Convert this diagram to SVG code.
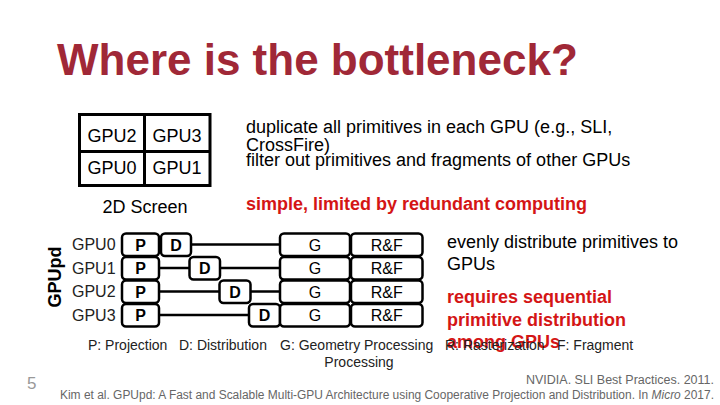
<svg xmlns="http://www.w3.org/2000/svg" width="720" height="405" viewBox="0 0 720 405">
<style>
text{font-family:"Liberation Sans",Arial,sans-serif;}
.title{font-size:44px;font-weight:bold;fill:#a02837;}
.t18{font-size:18px;fill:#000;}
.red{font-size:18px;font-weight:bold;fill:#d41515;}
.box{fill:#fff;stroke:#000;stroke-width:2.5;}
.bl{font-size:16px;font-weight:bold;text-anchor:middle;}
.rl{font-size:16px;text-anchor:middle;}
.gl{font-size:16px;fill:#222;}
.leg{font-size:14px;fill:#222;}
.ref{font-size:12.5px;fill:#666;}
.conn{stroke:#000;stroke-width:2.5;fill:none;}
.grid{fill:none;stroke:#000;stroke-width:3;}
</style>
<rect width="720" height="405" fill="#fff"/>
<text class="title" x="57" y="75">Where is the bottleneck?</text>

<g id="screen">
<rect class="grid" x="79.5" y="114.5" width="130.5" height="71"/>
<line class="grid" x1="144.5" y1="114.5" x2="144.5" y2="185.5"/>
<line class="grid" x1="79.5" y1="151.5" x2="210" y2="151.5"/>
<text class="t18" x="112" y="141.5" text-anchor="middle">GPU2</text>
<text class="t18" x="177" y="141.5" text-anchor="middle">GPU3</text>
<text class="t18" x="112" y="174" text-anchor="middle">GPU0</text>
<text class="t18" x="177" y="174" text-anchor="middle">GPU1</text>
<text class="t18" x="145" y="213" text-anchor="middle">2D Screen</text>
</g>

<g id="desc">
<text class="t18" x="246" y="133">duplicate all primitives in each GPU (e.g., SLI,</text>
<text class="t18" x="246" y="150.5">CrossFire)</text>
<text class="t18" x="246" y="166">filter out primitives and fragments of other GPUs</text>
<text class="red" x="246" y="210">simple, limited by redundant computing</text>
<text class="t18" x="447" y="248">evenly distribute primitives to</text>
<text class="t18" x="447" y="270">GPUs</text>
<text class="red" x="447" y="303">requires sequential</text>
<text class="red" x="447" y="326">primitive distribution</text>
<text class="red" x="447" y="348">among GPUs</text>
</g>

<text font-size="18" font-weight="bold" text-anchor="middle" transform="translate(60.5,277) rotate(-90)">GPUpd</text>
<g id="labels">
<text class="gl" x="72" y="249.5">GPU0</text>
<text class="gl" x="72" y="273.5">GPU1</text>
<text class="gl" x="72" y="297">GPU2</text>
<text class="gl" x="72" y="320.5">GPU3</text>
</g>

<g id="connectors">
<line class="conn" x1="191" y1="244.5" x2="280" y2="244.5"/>
<line class="conn" x1="159" y1="268" x2="189.5" y2="268"/>
<line class="conn" x1="220" y1="268" x2="280" y2="268"/>
<line class="conn" x1="159" y1="291.5" x2="219.5" y2="291.5"/>
<line class="conn" x1="250.5" y1="291.5" x2="280" y2="291.5"/>
<line class="conn" x1="159" y1="315" x2="249" y2="315"/>
</g>

<g id="P0"><rect class="box" x="122" y="233.5" width="37" height="22.5" rx="4"/><text class="bl" x="140.5" y="250.5">P</text></g>
<g id="P1"><rect class="box" x="122" y="257" width="37" height="22.5" rx="4"/><text class="bl" x="140.5" y="274">P</text></g>
<g id="P2"><rect class="box" x="122" y="280.5" width="37" height="22.5" rx="4"/><text class="bl" x="140.5" y="297.5">P</text></g>
<g id="P3"><rect class="box" x="122" y="304" width="37" height="22.5" rx="4"/><text class="bl" x="140.5" y="321">P</text></g>

<g id="D0"><rect class="box" x="161" y="233.5" width="30" height="22.5" rx="4"/><text class="bl" x="176" y="250.5">D</text></g>
<g id="D1"><rect class="box" x="189.5" y="257" width="30.5" height="22.5" rx="4"/><text class="bl" x="204.75" y="274">D</text></g>
<g id="D2"><rect class="box" x="219.5" y="280.5" width="31" height="22.5" rx="4"/><text class="bl" x="235" y="297.5">D</text></g>
<g id="D3"><rect class="box" x="249" y="304" width="31" height="22.5" rx="4"/><text class="bl" x="264.5" y="321">D</text></g>

<g id="G0"><rect class="box" x="280" y="233.5" width="70" height="22.5" rx="4"/><text class="rl" x="315" y="250.5">G</text></g>
<g id="G1"><rect class="box" x="280" y="257" width="70" height="22.5" rx="4"/><text class="rl" x="315" y="274">G</text></g>
<g id="G2"><rect class="box" x="280" y="280.5" width="70" height="22.5" rx="4"/><text class="rl" x="315" y="297.5">G</text></g>
<g id="G3"><rect class="box" x="280" y="304" width="70" height="22.5" rx="4"/><text class="rl" x="315" y="321">G</text></g>

<g id="RF0"><rect class="box" x="351" y="233.5" width="71.5" height="22.5" rx="4"/><text class="rl" x="386.75" y="250.5">R&amp;F</text></g>
<g id="RF1"><rect class="box" x="351" y="257" width="71.5" height="22.5" rx="4"/><text class="rl" x="386.75" y="274">R&amp;F</text></g>
<g id="RF2"><rect class="box" x="351" y="280.5" width="71.5" height="22.5" rx="4"/><text class="rl" x="386.75" y="297.5">R&amp;F</text></g>
<g id="RF3"><rect class="box" x="351" y="304" width="71.5" height="22.5" rx="4"/><text class="rl" x="386.75" y="321">R&amp;F</text></g>

<g id="legend">
<text class="leg" x="88" y="350">P: Projection</text>
<text class="leg" x="179" y="350">D: Distribution</text>
<text class="leg" x="280" y="350">G: Geometry Processing</text>
<text class="leg" x="445" y="350">R: Rasterization</text>
<text class="leg" x="557" y="350">F: Fragment</text>
<text class="leg" x="359" y="367" text-anchor="middle">Processing</text>
</g>

<text x="27" y="389" font-size="17" fill="#999">5</text>
<text class="ref" x="714" y="384" text-anchor="end">NVIDIA. SLI Best Practices. 2011.</text>
<text class="ref" x="714" y="399" text-anchor="end" textLength="654" lengthAdjust="spacingAndGlyphs">Kim et al. GPUpd: A Fast and Scalable Multi-GPU Architecture using Cooperative Projection and Distribution. In <tspan font-style="italic">Micro</tspan> 2017.</text>
</svg>
